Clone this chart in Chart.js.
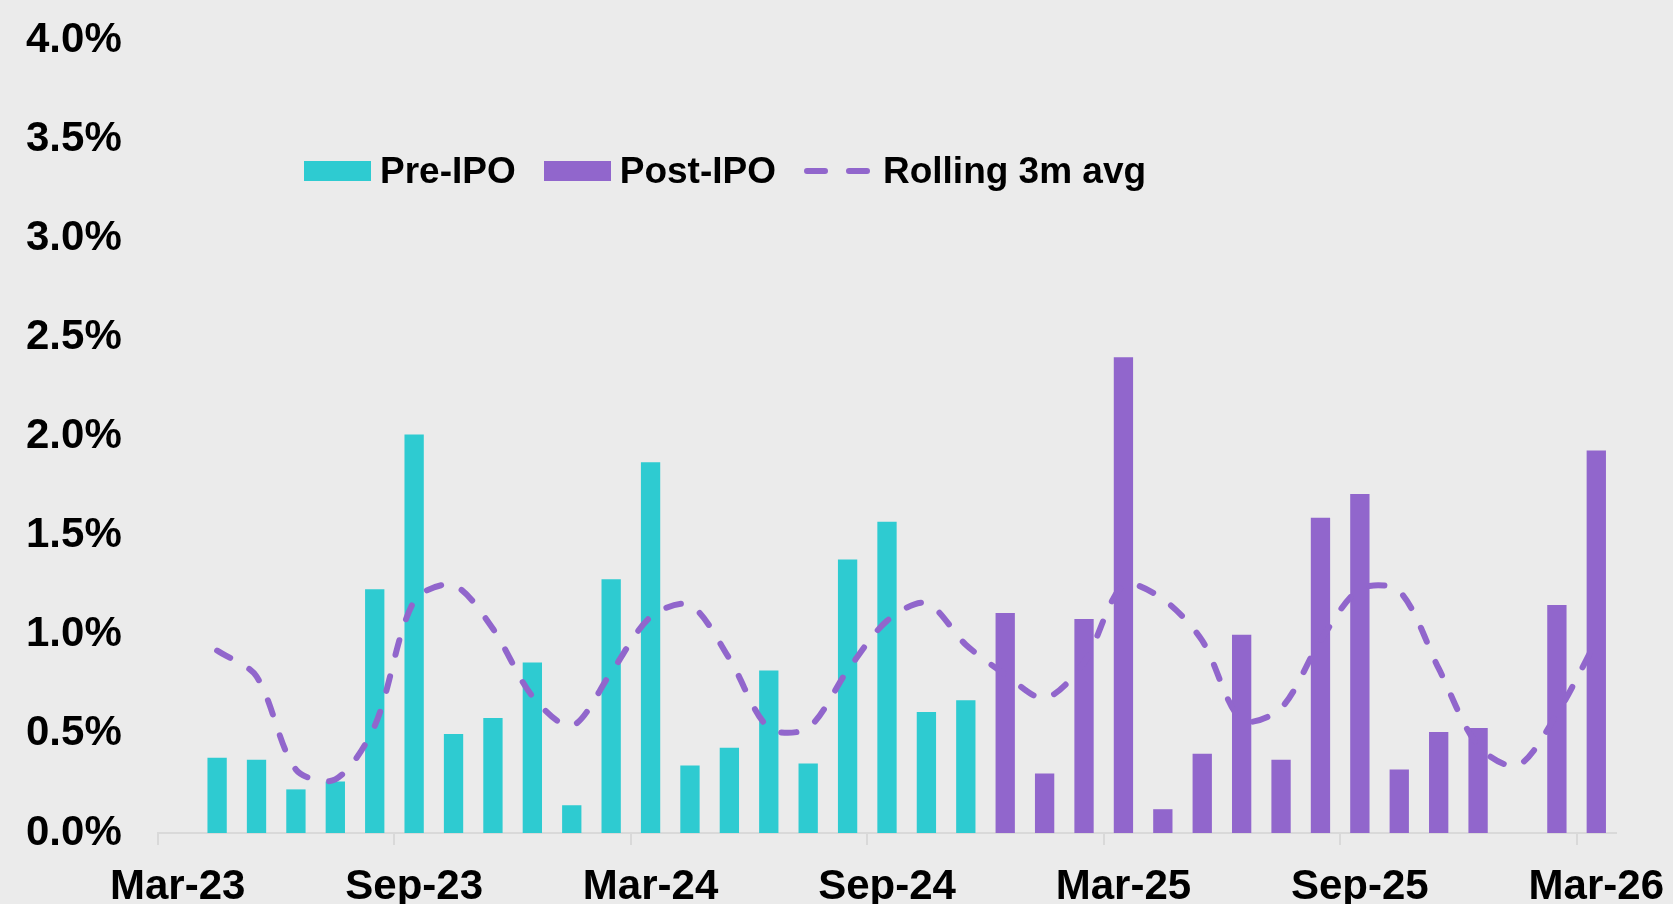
<!DOCTYPE html>
<html>
<head>
<meta charset="utf-8">
<script src="https://cdn.jsdelivr.net/npm/chart.js@4/dist/chart.umd.min.js"></script>
<style>
  body { margin: 0; background: #EBEBEB; }
  #wrap { position: relative; width: 1673px; height: 904px; background: #EBEBEB; }
  #legend {
    position: absolute; left: 304px; top: 150px; height: 42px;
    display: flex; align-items: center;
    font: bold 37px "Liberation Sans", Arial, sans-serif; color: #000;
  }
  .item { display: flex; align-items: center; margin-right: 28px; }
  .box { width: 67px; height: 20px; margin-right: 9px; }
  .dash { margin-right: 11px; }
</style>
</head>
<body>
<div id="wrap">
  <canvas id="ipoChart" width="1673" height="904"></canvas>
  <div id="legend">
    <div class="item"><div class="box" style="background:#2ECBD1"></div>Pre-IPO</div>
    <div class="item"><div class="box" style="background:#9166CC"></div>Post-IPO</div>
    <div class="item">
      <svg class="dash" width="68" height="20"><line x1="3" y1="10" x2="65" y2="10" stroke="#9166CC" stroke-width="6" stroke-linecap="round" stroke-dasharray="18 24"/></svg>Rolling 3m avg
    </div>
  </div>
</div>
<script>
// Monthly categories
const months = ['Mar-23', 'Apr-23', 'May-23', 'Jun-23', 'Jul-23', 'Aug-23', 'Sep-23', 'Oct-23', 'Nov-23', 'Dec-23',
    'Jan-24', 'Feb-24', 'Mar-24', 'Apr-24', 'May-24', 'Jun-24', 'Jul-24', 'Aug-24', 'Sep-24', 'Oct-24', 'Nov-24', 'Dec-24',
    'Jan-25', 'Feb-25', 'Mar-25', 'Apr-25', 'May-25', 'Jun-25', 'Jul-25', 'Aug-25', 'Sep-25', 'Oct-25', 'Nov-25', 'Dec-25',
    'Jan-26', 'Feb-26', 'Mar-26'];

// Values in %
const preIpo = [null, 0.38, 0.37, 0.22, 0.26, 1.23, 2.01, 0.50, 0.58, 0.86, 0.14, 1.28, 1.87, 0.34, 0.43, 0.82, 0.35, 1.38, 1.57, 0.61, 0.67,
    null, null, null, null, null, null, null, null, null, null, null, null, null, null, null, null];
const postIpo = [null, null, null, null, null, null, null, null, null, null, null, null, null, null, null, null, null, null, null, null, null,
    1.11, 0.30, 1.08, 2.40, 0.12, 0.40, 1.00, 0.37, 1.59, 1.71, 0.32, 0.51, 0.53, null, 1.15, 1.93];
const rolling3m = [null, 0.92, 0.79, 0.32, 0.27, 0.54, 1.17, 1.25, 1.03, 0.69, 0.54, 0.81, 1.09, 1.15, 0.88, 0.53, 0.53, 0.82, 1.07,
    1.16, 0.95, 0.80, 0.68, 0.86, 1.25, 1.18, 0.97, 0.57, 0.63, 0.97, 1.23, 1.22, 0.83, 0.44, 0.34, 0.60, 0.97];

const fontFamily = '"Liberation Sans", Arial, sans-serif';

const ctx = document.getElementById('ipoChart').getContext('2d');
new Chart(ctx, {
    type: 'bar',
    data: {
        labels: months,
        datasets: [
            {
                type: 'line',
                label: 'Rolling 3m avg',
                data: rolling3m,
                borderColor: '#9166CC',
                borderWidth: 6,
                borderDash: [15, 22],
                borderCapStyle: 'round',
                pointRadius: 0,
                tension: 0.3,
                order: 0
            },
            { label: 'Pre-IPO', data: preIpo, backgroundColor: '#2ECBD1', order: 1 },
            { label: 'Post-IPO', data: postIpo, backgroundColor: '#9166CC', order: 1 }
        ]
    },
    options: {
        responsive: false,
        animation: false,
        layout: { padding: { top: 40, right: 57, left: 26, bottom: 0 } },
        datasets: { bar: { grouped: false, barPercentage: 0.49, categoryPercentage: 1 } },
        plugins: { legend: { display: false }, tooltip: { enabled: false } },
        scales: {
            x: {
                afterFit: (scale) => { scale.height = 71; },
                border: { color: '#D9D9D9', width: 2 },
                grid: {
                    offset: true,
                    drawOnChartArea: false,
                    tickLength: 12,
                    lineWidth: 2,
                    color: (c) => (c.index % 6 === 0 ? '#D9D9D9' : 'rgba(0,0,0,0)')
                },
                ticks: {
                    autoSkip: false,
                    maxRotation: 0,
                    padding: 5,
                    color: '#000',
                    font: { family: fontFamily, size: 42, weight: 'bold', lineHeight: 1.76 },
                    callback: (v, i) => (i % 6 === 0 ? months[i] : '')
                }
            },
            y: {
                min: 0,
                max: 4,
                afterFit: (scale) => { scale.width = 132; },
                border: { display: false },
                grid: { display: false, drawTicks: false },
                ticks: {
                    stepSize: 0.5,
                    padding: 0,
                    crossAlign: 'far',
                    color: '#000',
                    font: { family: fontFamily, size: 42, weight: 'bold' },
                    callback: (v) => v.toFixed(1) + '%'
                }
            }
        }
    }
});
</script>
</body>
</html>
